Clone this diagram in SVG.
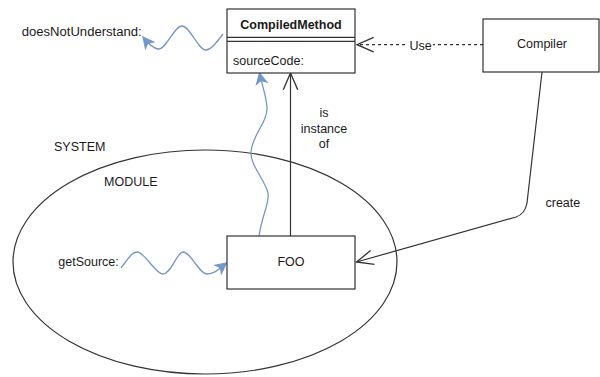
<svg xmlns="http://www.w3.org/2000/svg" width="600" height="377" viewBox="0 0 600 377">
<style>
text{font-family:"Liberation Sans",Arial,sans-serif;font-size:12.5px;fill:#1a1a1a}
.box{fill:#fff;stroke:#333;stroke-width:1.2}
.ln{fill:none;stroke:#333;stroke-width:1.2}
.wave{fill:none;stroke:#7596c8;stroke-width:1.3}
.mid{text-anchor:middle}
</style>
<defs>
<marker id="open" markerUnits="userSpaceOnUse" markerWidth="20" markerHeight="20" refX="0" refY="0" viewBox="-16 -8 18 16" orient="auto">
<path d="M-15,-6.5 L0,0 L-15,6.5" fill="none" stroke="#333" stroke-width="1.2"/>
</marker>
<marker id="blue" markerUnits="userSpaceOnUse" markerWidth="14" markerHeight="14" refX="0" refY="0" viewBox="-10 -6 12 12" orient="auto">
<path d="M0,0 L-9,-4.5 L-6.5,0 L-9,4.5 Z" fill="#7596c8" stroke="#7596c8" stroke-width="1"/>
</marker>
</defs>
<ellipse id="system" cx="205" cy="262" rx="192" ry="112" fill="none" stroke="#333" stroke-width="1.2"/>
<text x="54" y="151">SYSTEM</text>
<text x="104" y="185.5">MODULE</text>
<g id="connectors">
<path class="ln" d="M483,44.7 L357,44.7" stroke-dasharray="3 3" stroke="#555" marker-end="url(#open)"/>
<rect x="408" y="38" width="25" height="13" fill="#fff"/>
<text class="mid" x="420.5" y="49.5">Use</text>
<path class="ln" d="M290.5,236 L290.5,73" marker-end="url(#open)"/>
<text class="mid" x="324" y="116.5">is</text>
<text class="mid" x="324" y="133">instance</text>
<text class="mid" x="324" y="147.5">of</text>
<path class="ln" d="M542,72 L527,203 Q525,214 516,217 L356.5,262" marker-end="url(#open)"/>
<text x="545.5" y="207">create</text>
<path class="wave" d="M223,34 C214,46 210,50 206,50 C198,50 190,26 182,26 C174,26 166,50 158,49 C152,48 147,42 143,37" marker-end="url(#blue)"/>
<path class="wave" d="M121,268 C128,259 132,252 137,252 C145,252 155,274 163,274 C171,274 177,252 183,252 C191,252 199,274 207,274 C215,274 220,268 226.5,263" marker-end="url(#blue)"/>
<path class="wave" d="M259,236 C262,215 270,202 268,193 C265,180 250,165 251,152 C252,135 268,122 267,107 C266,95 262,85 259.5,73" marker-end="url(#blue)"/>
</g>
<text x="21.7" y="35.5" textLength="120" lengthAdjust="spacingAndGlyphs">doesNotUnderstand:</text>
<text x="58.3" y="266">getSource:</text>
<g id="compiledMethod">
<rect class="box" x="227" y="9" width="128" height="64"/>
<line class="ln" x1="227" y1="37.3" x2="355" y2="37.3"/>
<line class="ln" x1="227" y1="41.3" x2="355" y2="41.3"/>
<text class="mid" x="291" y="29" font-weight="bold">CompiledMethod</text>
<text x="233" y="64.5">sourceCode:</text>
</g>
<g id="compiler">
<rect class="box" x="483" y="19" width="116" height="53"/>
<text class="mid" x="542" y="47.5">Compiler</text>
</g>
<g id="foo">
<rect class="box" x="227" y="236" width="128" height="53"/>
<text class="mid" x="291" y="266">FOO</text>
</g>
</svg>
